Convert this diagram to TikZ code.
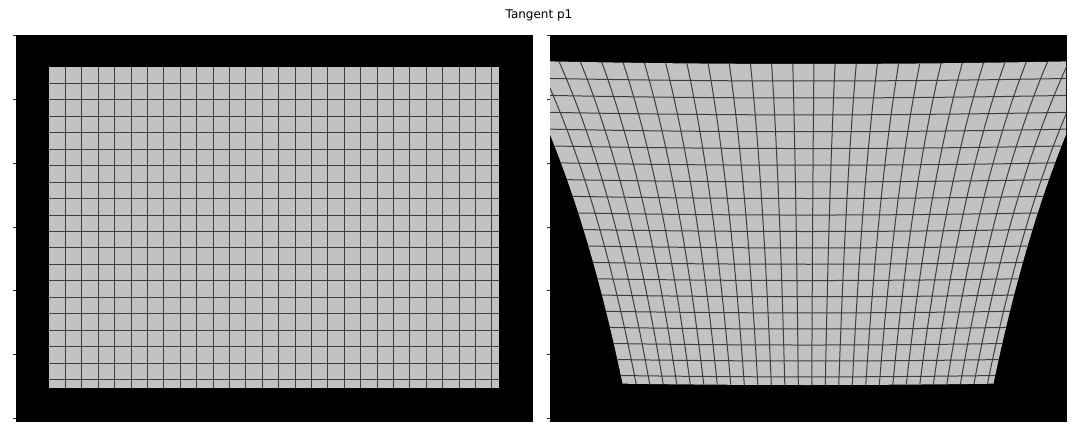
\documentclass[tikz,border=0pt]{standalone}
\usepackage{fontspec}
\setmainfont{DejaVu Sans}
\begin{document}
\begin{tikzpicture}[x=0.5pt,y=-0.5pt,
  panel/.style={fill=black,draw=black,line width=0.4pt},
  tickmark/.style={draw=black!85,line width=0.45pt},
  gridline/.style={draw=gridc,line width=0.5pt},
  paper/.style={fill=paperc},
  titletext/.style={font=\fontsize{6}{7}\selectfont,inner sep=0pt,anchor=base},
  declare function={
    wy(\u,\v)=(\v)-0.0039*(((\u)/(1+0.137*(\v)))^2+3*(\v)^2);
    wx(\u,\v)=(\u)/(1+0.137*wy((\u),(\v)));
  }]
\definecolor{gridc}{RGB}{62,62,62}
\definecolor{paperc}{RGB}{194,194,194}
\useasboundingbox (0,0) rectangle (1080,432);
\fill[white] (0,0) rectangle (1080,432);
\node[titletext] (title) at (539,19) {Tangent p1};

% ---------- left panel ----------
\path[panel] (16,35) rectangle (532,421);
\fill[paper] (49,67) rectangle (499,388);
\foreach \k in {1,...,27}{
  \draw[gridline] ({49+16.4*\k},67) -- ({49+16.4*\k},388);
}
\foreach \k in {1,...,19}{
  \draw[gridline] (49,{67+16.45*\k}) -- (499,{67+16.45*\k});
}
\foreach \ty in {35,99.2,163.1,227,290.9,354.7,418.5}{
  \draw[tickmark] (16,\ty) -- (12.5,\ty);
}

% ---------- right panel ----------
\path[panel] (550,35) rectangle (1066,421);
\begin{scope}
  \clip (550,35) rectangle (1066,421);
  \fill[paper]
    plot[domain=-2.25:2.25,samples=41,variable=\vv] ({808+100*wx(\vv,-1.61)},{228+100*wy(\vv,-1.61)})
    -- plot[domain=-1.61:1.60,samples=41,variable=\vv] ({808+100*wx(2.25,\vv)},{228+100*wy(2.25,\vv)})
    -- plot[domain=2.25:-2.25,samples=41,variable=\vv] ({808+100*wx(\vv,1.60)},{228+100*wy(\vv,1.60)})
    -- plot[domain=1.60:-1.61,samples=41,variable=\vv] ({808+100*wx(-2.25,\vv)},{228+100*wy(-2.25,\vv)})
    -- cycle;
  \foreach \k in {1,...,27}{
    \pgfmathsetmacro\uu{-2.25+0.164*\k}
    \draw[gridline] plot[domain=-1.61:1.60,samples=25,variable=\vv,smooth]
      ({808+100*wx(\uu,\vv)},{228+100*wy(\uu,\vv)});
  }
  \foreach \k in {1,...,19}{
    \pgfmathsetmacro\ww{-1.61+0.1645*\k}
    \draw[gridline] plot[domain=-2.25:2.25,samples=25,variable=\vv,smooth]
      ({808+100*wx(\vv,\ww)},{228+100*wy(\vv,\ww)});
  }
\end{scope}
\foreach \ty in {35,99.2,163.1,227,290.9,354.7,418.5}{
  \draw[tickmark] (550,\ty) -- (546.5,\ty);
}
\end{tikzpicture}
\end{document}
